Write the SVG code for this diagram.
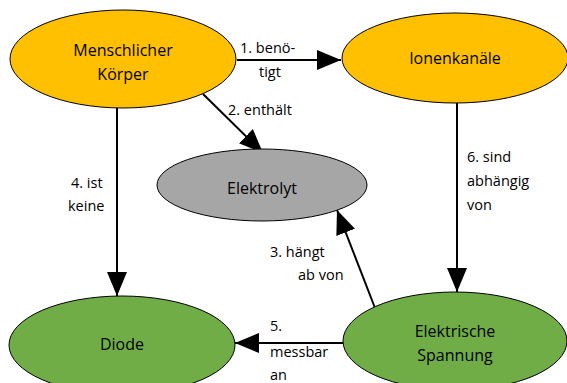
<svg xmlns="http://www.w3.org/2000/svg" width="567" height="383" viewBox="0 0 567 383">
<style>
.n{stroke:#000;stroke-width:1}
.o{fill:#fec000}
.g{fill:#a6a6a6}
.v{fill:#70ad47}
.t{font-family:"Open Sans","Liberation Sans",Arial,sans-serif;font-size:16px;fill:#000;text-anchor:middle}
.l{font-family:"Open Sans","Liberation Sans",Arial,sans-serif;font-size:14.5px;fill:#000}
.c{stroke:#000;stroke-width:2;fill:none;marker-end:url(#ah)}
</style>
<defs>
<marker id="ah" markerUnits="userSpaceOnUse" markerWidth="26" markerHeight="22" refX="24" refY="10" orient="auto">
<path d="M0,0 L24,10 L0,20 Z" fill="#000"/>
</marker>
</defs>
<rect width="567" height="383" fill="#fff"/>
<g id="connectors">
<line class="c" x1="237" y1="60" x2="341" y2="60"/>
<line class="c" x1="203" y1="94" x2="263" y2="153"/>
<line class="c" x1="375" y1="308" x2="337" y2="210"/>
<line class="c" x1="117" y1="108" x2="117" y2="296"/>
<line class="c" x1="343" y1="343" x2="235" y2="343"/>
<line class="c" x1="457" y1="103" x2="457" y2="292"/>
</g>
<g id="labels">
<text class="l" x="240" y="53">1. benö-</text>
<text class="l" x="259" y="77">tigt</text>
<text class="l" x="228" y="115">2. enthält</text>
<text class="l" x="270" y="257">3. hängt</text>
<text class="l" x="298" y="280">ab von</text>
<text class="l" x="71" y="188">4. ist</text>
<text class="l" x="68" y="211">keine</text>
<text class="l" x="270" y="331">5.</text>
<text class="l" x="270" y="357">messbar</text>
<text class="l" x="270" y="380">an</text>
<text class="l" x="467" y="162">6. sind</text>
<text class="l" x="467" y="186">abhängig</text>
<text class="l" x="467" y="210">von</text>
</g>
<g id="koerper">
<ellipse class="n o" cx="123" cy="59" rx="113" ry="49"/>
<text class="t" x="123" y="56">Menschlicher</text>
<text class="t" x="123" y="80">Körper</text>
</g>
<g id="ionenkanaele">
<ellipse class="n o" cx="455" cy="58" rx="113" ry="45"/>
<text class="t" x="455" y="64">Ionenkanäle</text>
</g>
<g id="elektrolyt">
<ellipse class="n g" cx="262" cy="185" rx="105" ry="36"/>
<text class="t" x="262" y="194">Elektrolyt</text>
</g>
<g id="diode">
<ellipse class="n v" cx="122" cy="345" rx="113" ry="49"/>
<text class="t" x="122" y="350">Diode</text>
</g>
<g id="spannung">
<ellipse class="n v" cx="455" cy="341" rx="112" ry="49"/>
<text class="t" x="455" y="337">Elektrische</text>
<text class="t" x="455" y="361">Spannung</text>
</g>
</svg>
